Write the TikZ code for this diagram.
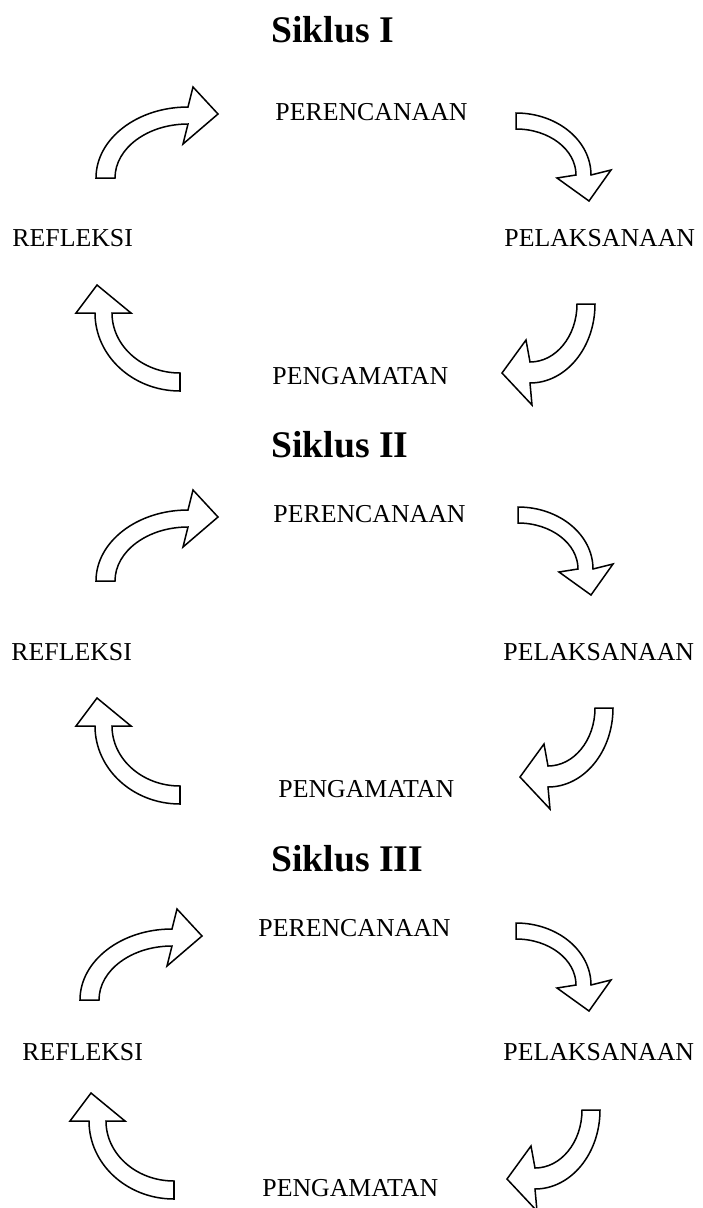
\documentclass[tikz,border=0pt]{standalone}
\usepackage{fontspec}
\setmainfont{Liberation Serif}
\usetikzlibrary{positioning}

\tikzset{
  stage/.style={inner sep=0pt, anchor=base west, font=\fontsize{12}{14}\selectfont},
  cycletitle/.style={inner sep=0pt, anchor=base west, font=\bfseries\fontsize{17.5}{21}\selectfont},
  blockarrow/.style={draw, fill=white, line width=0.7pt, line join=miter},
}

% curved block arrows, drawn for Siklus I and shifted for the other cycles
\newcommand{\arrowtoplan}[1]{%
  \draw[blockarrow, shift={#1}] (96,-178) arc[start angle=180, end angle=90, x radius=92, y radius=71]
    -- (193,-87) -- (218,-114) -- (183,-144) -- (188,-124)
    arc[start angle=90, end angle=180, x radius=73, y radius=54] -- cycle;}
\newcommand{\arrowtoact}[1]{%
  \draw[blockarrow, shift={#1}] (516,-113) arc[start angle=90, end angle=0, x radius=75, y radius=62]
    -- (611,-170) -- (589,-201) -- (557,-178) -- (576,-175)
    arc[start angle=0, end angle=90, x radius=60, y radius=46] -- cycle;}
\newcommand{\arrowtoobs}[1]{%
  \draw[blockarrow, shift={#1}] (595,-304) arc[start angle=0, end angle=-90, x radius=65, y radius=79]
    -- (532,-405) -- (502,-373) -- (526,-340) -- (530,-362)
    arc[start angle=-90, end angle=0, x radius=47, y radius=58] -- cycle;}
\newcommand{\arrowtoref}[1]{%
  \draw[blockarrow, shift={#1}] (180,-391) arc[start angle=270, end angle=180, x radius=85, y radius=78]
    -- (76,-313) -- (97,-285) -- (131,-313) -- (112,-313)
    arc[start angle=180, end angle=270, x radius=68, y radius=60] -- cycle;}

\begin{document}
\begin{tikzpicture}[x=0.465pt, y=0.465pt]
  \useasboundingbox (0,0) rectangle (703,-1208);

  % Siklus I
  \node[cycletitle] (title1) at (271,-42) {Siklus I};
  \node[stage] (plan1) at (275,-120) {PERENCANAAN};
  \node[stage] (refl1) at (12,-246) {REFLEKSI};
  \node[stage] (act1) at (504,-246) {PELAKSANAAN};
  \node[stage] (obs1) at (272,-384) {PENGAMATAN};
  \arrowtoplan{(0,0)}
  \arrowtoact{(0,0)}
  \arrowtoobs{(0,0)}
  \arrowtoref{(0,0)}

  % Siklus II
  \node[cycletitle] (title2) at (271,-457) {Siklus II};
  \node[stage] (plan2) at (273,-522) {PERENCANAAN};
  \node[stage] (refl2) at (11,-660) {REFLEKSI};
  \node[stage] (act2) at (503,-660) {PELAKSANAAN};
  \node[stage] (obs2) at (278,-797) {PENGAMATAN};
  \arrowtoplan{(0,-403)}
  \arrowtoact{(2,-394)}
  \arrowtoobs{(18,-404)}
  \arrowtoref{(0,-413)}

  % Siklus III
  \node[cycletitle] (title3) at (271,-871) {Siklus III};
  \node[stage] (plan3) at (258,-936) {PERENCANAAN};
  \node[stage] (refl3) at (22,-1060) {REFLEKSI};
  \node[stage] (act3) at (503,-1060) {PELAKSANAAN};
  \node[stage] (obs3) at (262,-1196) {PENGAMATAN};
  \arrowtoplan{(-16,-822)}
  \arrowtoact{(0,-810)}
  \arrowtoobs{(5,-806)}
  \arrowtoref{(-6,-808)}
\end{tikzpicture}
\end{document}
